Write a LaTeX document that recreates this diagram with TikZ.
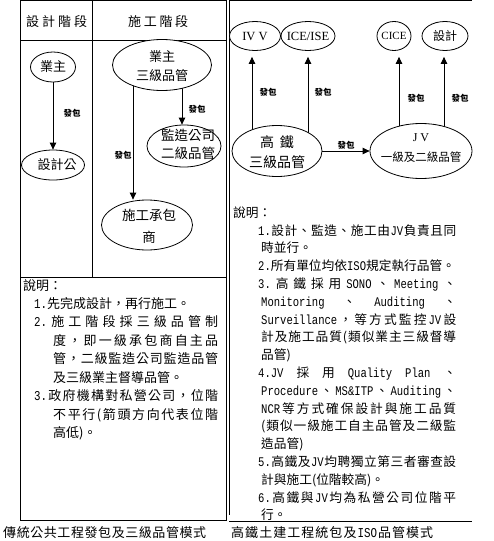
\documentclass[tikz,border=0pt]{standalone}
\usepackage{fontspec}
\setmainfont{Noto Sans CJK TC}
\newfontfamily\lat[FakeStretch=0.8,Scale=1.04]{Liberation Mono}
\newfontfamily\ser{Liberation Serif}
\usetikzlibrary{shapes.geometric,arrows.meta}
\pgfdeclarelayer{bg}
\pgfsetlayers{bg,main}
\newcommand\la[1]{{\lat #1}}
\def\spr#1#2\endspr{#1\if\relax\detokenize{#2}\relax\else\hfill\spr#2\endspr\fi}
\newcommand\ct[3]{\makebox[0pt]{\hspace{#1}\raisebox{#2}{\begin{tabular}[t]{@{}c@{}}#3\end{tabular}}}}
\begin{document}
\begin{tikzpicture}[x=1pt,y=-1pt,
  ell/.style={ellipse,draw,fill=white,inner sep=0pt,text height=0pt,text depth=0pt,line width=0.8pt},
  arr/.style={-{Triangle[length=7pt,width=6.5pt]},line width=0.8pt},
  fb/.style={inner sep=0pt,font=\fontsize{8.5}{9}\selectfont\bfseries},
  nl/.style={anchor=base west,inner sep=0pt,font=\fontsize{13}{15}\selectfont},
  nr/.style={anchor=base west,inner sep=0pt,font=\fontsize{12.7}{15}\selectfont},
  frame/.style={line width=0.9pt}]
\useasboundingbox (0,0) rectangle (494,541);
% frames
\draw[frame] (20,0.5) rectangle (226,520);
\draw[frame] (20,40.5) -- (226,40.5);
\draw[frame] (92,0.5) -- (92,277);
\draw[frame] (20,277) -- (226,277);
\draw[frame] (229,0.5) -- (472,0.5);
\draw[frame] (229,0.5) -- (229,515);
\draw[frame] (229,521) -- (472,521);
% headers
\node[nl] (h1) at (26,26) {\makebox[61pt]{\spr 設計階段\endspr}};
\node[nl] (h2) at (128,26) {\makebox[60pt]{\spr 施工階段\endspr}};
% left nodes
\node[ell,minimum width=45,minimum height=30,font=\fontsize{13}{17}\selectfont] (yz) at (53,67) {\ct{0pt}{-4.9pt}{業主}};
\node[ell,minimum width=63,minimum height=30,font=\fontsize{13}{17}\selectfont] (sjg) at (53,165) {\ct{8pt}{-4.9pt}{設計公}};
\node[ell,minimum width=99,minimum height=51,font=\fontsize{13}{19}\selectfont] (yz3) at (162,65) {\ct{0pt}{3.1pt}{業主\\三級品管}};
\node[ell,minimum width=74,minimum height=42,font=\fontsize{13.5}{18}\selectfont] (jz) at (184,146) {\ct{8pt}{5.9pt}{監造公司\\二級品管}};
\node[ell,minimum width=91,minimum height=50,font=\fontsize{13.5}{22}\selectfont] (sg) at (147,225) {\ct{4pt}{4.9pt}{施工承包\\商}};
% right nodes
\node[ell,minimum width=90,minimum height=51,font=\fontsize{14}{20}\selectfont] (gt) at (277,151) {\ct{0pt}{3.7pt}{高\hspace{6pt}鐵\\三級品管}};
\node[ell,minimum width=102,minimum height=55,font=\fontsize{11.5}{20}\selectfont] (jv) at (421,151) {\ct{0pt}{9.6pt}{{\ser\fontsize{12}{20}\selectfont J V}\\一級及二級品管}};
\node[ell,minimum width=51,minimum height=29,font=\ser\fontsize{12.5}{15}\selectfont] (ivv) at (255,36) {\ct{0pt}{-4.1pt}{IV~V}};
\node[ell,minimum width=54,minimum height=29,font=\ser\fontsize{12.5}{15}\selectfont] (ice) at (308,36) {\ct{0pt}{-4.1pt}{ICE/ISE}};
\node[ell,minimum width=34,minimum height=29,font=\ser\fontsize{11}{15}\selectfont] (cice) at (394,36) {\ct{0pt}{-3.6pt}{CICE}};
\node[ell,minimum width=46,minimum height=29,font=\fontsize{12}{15}\selectfont] (sj) at (445,36) {\ct{0pt}{-4.6pt}{設計}};
% connector x positions
\coordinate (xa) at (133,0);
\coordinate (xb) at (182,0);
\coordinate (xc) at (252,0);
\coordinate (xd) at (308,0);
\coordinate (xe) at (399,0);
\coordinate (xf) at (444,0);
\begin{pgfonlayer}{bg}
\draw[arr] (yz) -- (sjg);
\draw[arr] (yz3.center -| xb) -- (jz.north -| xb);
\draw[arr] (yz3.center -| xa) -- (sg.north -| xa);
\draw[arr,shorten >=6pt] (gt.center -| xc) -- (ivv.south -| xc);
\draw[arr,shorten >=6pt] (gt.center -| xd) -- (ice.south -| xd);
\draw[arr,shorten >=6pt] (jv.center -| xe) -- (cice.south -| xe);
\draw[arr,shorten >=6pt] (jv.center -| xf) -- (sj.south -| xf);
\draw[arr] (gt.east) -- (jv.west);
\end{pgfonlayer}
% labels
\node[fb] (f1) at (72,113) {發包};
\node[fb] (f2) at (197,109) {發包};
\node[fb] (f3) at (123,155) {發包};
\node[fb] (f4) at (268,92.5) {發包};
\node[fb] (f5) at (323,92.5) {發包};
\node[fb] (f6) at (416,98) {發包};
\node[fb] (f7) at (460,98) {發包};
\node[fb] (f8) at (346,145) {發包};
% left notes
\node[nl] (l0) at (23,290) {說明：};
\node[nl] (l1) at (34,308) {\la{1.}先完成設計，再行施工。};
\node[nl] (l2) at (34,326.5) {\makebox[184pt]{\spr{\la{2.}}施工階段採三級品管制\endspr}};
\node[nl] (l3) at (53,345) {\makebox[165pt]{\spr 度，即一級承包商自主品\endspr}};
\node[nl] (l4) at (53,363.5) {\makebox[165pt]{\spr 管，二級監造公司監造品管\endspr}};
\node[nl] (l5) at (53,382) {及三級業主督導品管。};
\node[nl] (l6) at (34,400.5) {\makebox[184pt]{\spr{\la{3.}}政府機構對私營公司，位階\endspr}};
\node[nl] (l7) at (53,419) {\makebox[165pt]{\spr 不平行(箭頭方向代表位階\endspr}};
\node[nl] (l8) at (53,437.5) {高低)。};
% right notes
\node[nr] (r0) at (233,217) {說明：};
\node[nr] (r1) at (258,235) {\makebox[198pt]{\spr{\la{1.}}設計、監造、施工由{\la{JV}}負責且同\endspr}};
\node[nr] (r2) at (261,252.8) {時並行。};
\node[nr] (r3) at (258,270.6) {\la{2.}所有單位均依\la{ISO}規定執行品管。};
\node[nr] (r4) at (258,288.4) {\makebox[198pt]{\spr{\la{3.}}高鐵採用{\la{SONO}}、{\la{Meeting}}、\endspr}};
\node[nr] (r5) at (261,306.2) {\makebox[195pt]{\spr{\la{Monitoring}}、{\la{Auditing}}、\endspr}};
\node[nr] (r6) at (261,324) {\makebox[195pt]{\spr{\la{Surveillance}}，等方式監控{\la{JV}}設\endspr}};
\node[nr] (r7) at (261,341.8) {\makebox[195pt]{\spr 計及施工品質(類似業主三級督導\endspr}};
\node[nr] (r8) at (261,359.6) {品管)};
\node[nr] (r9) at (258,377.4) {\makebox[198pt]{\spr{\la{4.JV}}採用{\la{Quality}}{\la{Plan}}、\endspr}};
\node[nr] (r10) at (261,395.2) {\makebox[195pt]{\spr{\la{Procedure}}、{\la{MS\&ITP}}、{\la{Auditing}}、\endspr}};
\node[nr] (r11) at (261,413) {\makebox[195pt]{\spr{\la{NCR}}等方式確保設計與施工品質\endspr}};
\node[nr] (r12) at (261,430.8) {\makebox[195pt]{\spr(類似一級施工自主品管及二級監\endspr}};
\node[nr] (r13) at (261,448.6) {造品管)};
\node[nr] (r14) at (258,466.4) {\makebox[198pt]{\spr{\la{5.}}高鐵及{\la{JV}}均聘獨立第三者審查設\endspr}};
\node[nr] (r15) at (261,484.2) {計與施工(位階較高)。};
\node[nr] (r16) at (258,502) {\makebox[198pt]{\spr{\la{6.}}高鐵與{\la{JV}}均為私營公司位階平\endspr}};
\node[nr] (r17) at (261,519) {行。};
% captions
\node[nl] (c1) at (3,537) {\makebox[203pt]{\spr 傳統公共工程發包及三級品管模式\endspr}};
\node[nl] (c2) at (231,537) {\makebox[202pt]{\spr 高鐵土建工程統包及{\la{ISO}}品管模式\endspr}};
\end{tikzpicture}
\end{document}
